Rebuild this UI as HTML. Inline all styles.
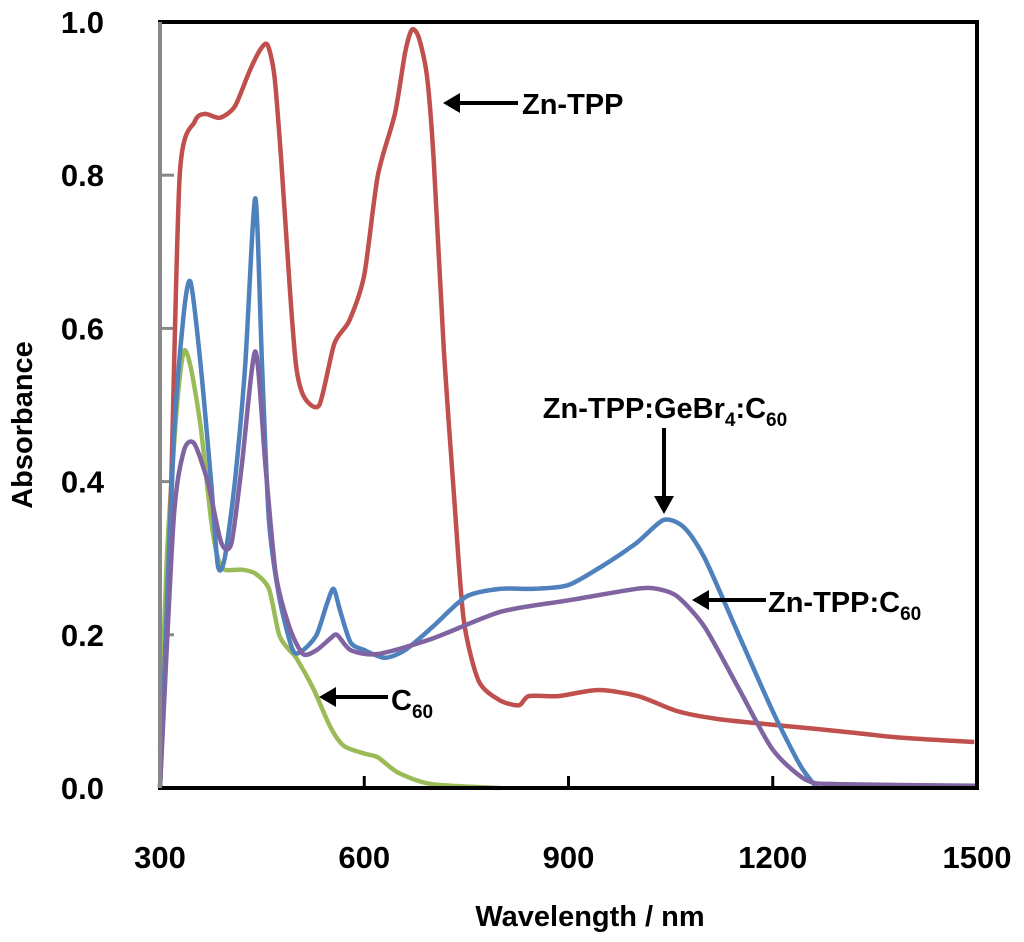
<!DOCTYPE html>
<html><head><meta charset="utf-8"><style>
body{margin:0;background:#fff;}
svg{display:block;font-family:"Liberation Sans",Arial,sans-serif;font-weight:bold;}
</style></head><body>
<svg id="chart" width="1024" height="942" viewBox="0 0 1024 942">
<g id="axes"></g><g id="series"></g>
<rect x="160" y="22" width="817" height="766" fill="none" stroke="#000" stroke-width="4"/>
<line x1="160" y1="22" x2="160" y2="788" stroke="#888" stroke-width="4"/>
<g id="labels" font-size="31" fill="#000"></g>
<text x="32" y="425" font-size="29" text-anchor="middle" transform="rotate(-90 32 425)">Absorbance</text>
<text x="590" y="926" font-size="29" text-anchor="middle">Wavelength / nm</text>
<g>
<line x1="518" y1="103" x2="455" y2="103" stroke="#000" stroke-width="4"/><polygon points="443,103 460,93 460,113" fill="#000"/>
<text x="522" y="114" font-size="29">Zn-TPP</text></g>
<g>
<line x1="664" y1="428" x2="664" y2="500" stroke="#000" stroke-width="4"/><polygon points="664,514 654,496 674,496" fill="#000"/>
<text x="665" y="418" font-size="29" text-anchor="middle">Zn-TPP:GeBr<tspan font-size="19" dy="8">4</tspan><tspan dy="-8">:C</tspan><tspan font-size="19" dy="8">60</tspan></text></g>
<g>
<line x1="766" y1="600" x2="705" y2="600" stroke="#000" stroke-width="4"/><polygon points="692,600 709,590 709,610" fill="#000"/>
<text x="768" y="612" font-size="29">Zn-TPP:C<tspan font-size="19" dy="8">60</tspan></text></g>
<g>
<line x1="388" y1="697" x2="332" y2="697" stroke="#000" stroke-width="4"/><polygon points="319,697 336,687 336,707" fill="#000"/>
<text x="391" y="710" font-size="29">C<tspan font-size="19" dy="8">60</tspan></text></g>
</svg>
<script>
const xTicks=[300,600,900,1200,1500];
const yTicks=[0.0,0.2,0.4,0.6,0.8,1.0];
const redX=[300,315,329,351,366,388,410,432,448,458,468,478,490,500,512,534,556,578,600,620,645,660,670,680,692,702,717,732,746,768,798,827,842,885,944,1002,1061,1120,1207,1310,1383,1496];
const redY=[0,0.35,0.80,0.87,0.88,0.875,0.89,0.937,0.965,0.97,0.93,0.82,0.66,0.55,0.51,0.50,0.58,0.61,0.67,0.80,0.88,0.96,0.99,0.98,0.93,0.82,0.57,0.38,0.22,0.14,0.115,0.108,0.12,0.12,0.128,0.12,0.10,0.09,0.082,0.073,0.066,0.06];
const blueX=[300,320,335,345,360,375,385,395,410,425,440,450,460,475,495,510,530,545,555,565,580,600,630,660,700,750,800,850,900,950,1000,1040,1070,1100,1150,1200,1240,1265];
const blueY=[0,0.45,0.62,0.66,0.55,0.40,0.29,0.30,0.40,0.55,0.77,0.55,0.35,0.25,0.18,0.18,0.20,0.24,0.26,0.23,0.19,0.18,0.17,0.18,0.21,0.25,0.26,0.26,0.265,0.29,0.32,0.35,0.34,0.30,0.20,0.10,0.03,0];
const purpleX=[300,320,335,350,370,390,405,420,440,455,470,490,510,530,550,560,580,620,700,800,900,1000,1030,1060,1100,1150,1200,1250,1300,1500];
const purpleY=[0,0.35,0.44,0.45,0.40,0.32,0.32,0.42,0.57,0.42,0.28,0.21,0.175,0.18,0.195,0.2,0.18,0.175,0.195,0.23,0.245,0.26,0.26,0.25,0.21,0.13,0.05,0.01,0.005,0.003];
const greenX=[300,310,325,335,345,360,375,385,395,420,440,460,475,490,500,525,550,570,600,620,650,700,800];
const greenY=[0.05,0.3,0.5,0.57,0.55,0.47,0.35,0.30,0.285,0.285,0.28,0.26,0.20,0.18,0.17,0.13,0.08,0.055,0.045,0.04,0.02,0.005,0];
const NS='http://www.w3.org/2000/svg';
const sx=v=>160+(v-300)*817/1200;
const sy=v=>788-v*766;
const axes=document.getElementById('axes'),labels=document.getElementById('labels'),series=document.getElementById('series');
xTicks.forEach(t=>{
 const l=document.createElementNS(NS,'line');
 
 
 l.setAttribute('x1',sx(t));l.setAttribute('x2',sx(t));l.setAttribute('y1',788);l.setAttribute('y2',776);
 l.setAttribute('stroke','#000');l.setAttribute('stroke-width',3);axes.appendChild(l);
 const tx=document.createElementNS(NS,'text');
 
 
 tx.setAttribute('x',sx(t));tx.setAttribute('y',868);tx.setAttribute('text-anchor','middle');tx.textContent=t;labels.appendChild(tx);
});
yTicks.forEach(t=>{
 const l=document.createElementNS(NS,'line');
 
 
 l.setAttribute('x1',160);l.setAttribute('x2',174);l.setAttribute('y1',sy(t));l.setAttribute('y2',sy(t));
 l.setAttribute('stroke','#888');l.setAttribute('stroke-width',3);axes.appendChild(l);
 const tx=document.createElementNS(NS,'text');
 
 
 tx.setAttribute('x',104);tx.setAttribute('y',sy(t)+11);tx.setAttribute('text-anchor','end');tx.textContent=t.toFixed(1);labels.appendChild(tx);
});
function draw(xs,ys,color,name){
 const P=xs.map((x,i)=>[sx(x),sy(ys[i])]);
 let d='M'+P[0][0].toFixed(1)+','+P[0][1].toFixed(1);
 for(let i=0;i<P.length-1;i++){
  const p0=P[Math.max(i-1,0)],p1=P[i],p2=P[i+1],p3=P[Math.min(i+2,P.length-1)];
  const k=1/8;
  const c1=[p1[0]+(p2[0]-p0[0])*k,p1[1]+(p2[1]-p0[1])*k];
  const c2=[p2[0]-(p3[0]-p1[0])*k,p2[1]-(p3[1]-p1[1])*k];
  d+='C'+c1.map(v=>v.toFixed(1))+' '+c2.map(v=>v.toFixed(1))+' '+p2.map(v=>v.toFixed(1));
 }
 const p=document.createElementNS(NS,'path');
 
 
 p.setAttribute('d',d);
 p.setAttribute('fill','none');p.setAttribute('stroke',color);p.setAttribute('stroke-width',4.5);p.setAttribute('stroke-linejoin','round');
 series.appendChild(p);
}
draw(greenX,greenY,'#9bbb59','series-c60');
draw(redX,redY,'#c0504d','series-zn-tpp');
draw(blueX,blueY,'#4f81bd','series-zn-tpp-gebr4-c60');
draw(purpleX,purpleY,'#8064a2','series-zn-tpp-c60');
</script>
</body></html>
